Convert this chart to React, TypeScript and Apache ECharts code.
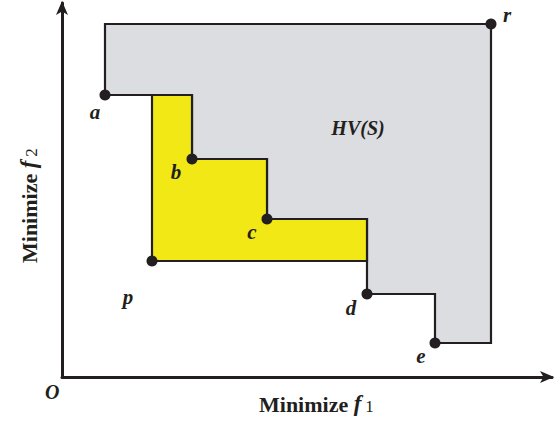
import React, { useEffect, useRef } from "react";
import * as echarts from "echarts";

// Non-dominated front S (f1, f2)
const frontNames = ["a", "b", "c", "d", "e"];
const frontX = [4.3, 13.0, 20.5, 30.5, 37.3];
const frontY = [28.2, 21.8, 15.8, 8.3, 3.4];
// reference point r and new point p
const refPoint = [42.9, 35.3];
const newPoint = [9.0, 11.6];
// label offsets (px) for a..e, p, r
const labelOffsets: Record<string, number[]> = {
  a: [-10, 17],
  b: [-16, 13],
  c: [-15, 13],
  d: [-16, 14],
  e: [-14, 13],
  p: [-24, 36],
  r: [16, -9],
};
const hvLabelPos = [29.6, 24.9];

const SERIF = "'Liberation Serif', 'DejaVu Serif', serif";
const INK = "#231f20";

export default function App() {
  const ref = useRef<HTMLDivElement>(null);
  useEffect(() => {
    if (!ref.current) return;
    const chart = echarts.init(ref.current, undefined, { renderer: "svg" });

    const front = frontX.map((x, i) => [x, frontY[i]]);
    // gray HV polygon
    const grayPoly: number[][] = [];
    for (let i = 0; i < front.length; i++) {
      grayPoly.push(front[i]);
      const nextX = i < front.length - 1 ? front[i + 1][0] : refPoint[0];
      grayPoly.push([nextX, front[i][1]]);
    }
    grayPoly.push(refPoint);
    grayPoly.push([front[0][0], refPoint[1]]);

    // yellow polygon: region dominated by p not already dominated by S
    const yellowPoly: number[][] = [[newPoint[0], front[0][1]]];
    for (let i = 0; i < front.length; i++) {
      const nextX = front[i + 1] ? front[i + 1][0] : refPoint[0];
      if (front[i][1] <= newPoint[1]) break;
      if (i > 0) yellowPoly.push(front[i]);
      if (front[i + 1] && front[i + 1][1] > newPoint[1]) {
        yellowPoly.push([nextX, front[i][1]]);
      } else {
        yellowPoly.push([nextX, front[i][1]]);
        yellowPoly.push([nextX, newPoint[1]]);
        break;
      }
    }
    yellowPoly.push(newPoint);

    const polySeries = (pts: number[][], fill: string) => ({
      type: "custom",
      silent: true,
      data: [0],
      renderItem: (_p: any, api: any) => ({
        type: "polygon",
        shape: { points: pts.map((q) => api.coord(q)) },
        style: { fill, stroke: INK, lineWidth: 2.2, lineJoin: "miter" },
      }),
      z: 1,
    });

    const labelStyle = {
      show: true,
      formatter: "{b}",
      fontFamily: SERIF,
      fontStyle: "italic",
      fontWeight: "bold",
      fontSize: 21,
      color: INK,
      opacity: 1,
      position: "inside",
    };

    const pointData = [
      ...front.map((q, i) => ({ name: frontNames[i], value: q })),
      { name: "p", value: newPoint },
      { name: "r", value: refPoint },
    ].map((d) => ({
      ...d,
      label: { ...labelStyle, offset: labelOffsets[d.name] },
    }));

    const richTitle = {
      m: { fontFamily: SERIF, fontWeight: "bold", fontSize: 22, fill: INK, lineHeight: 26, verticalAlign: "bottom" },
      f: { fontFamily: SERIF, fontWeight: "bold", fontStyle: "italic", fontSize: 23, fill: INK, lineHeight: 26, verticalAlign: "bottom" },
      s: { fontFamily: SERIF, fontSize: 17, fill: INK, lineHeight: 22, verticalAlign: "bottom", padding: [0, 0, 0, 4] },
    };

    chart.setOption({
      animation: false,
      grid: { left: 62, right: 8, top: 3, bottom: 47 },
      xAxis: {
        type: "value",
        min: 0,
        max: 49,
        axisLine: {
          show: true,
          symbol: ["none", "arrow"],
          symbolSize: [9, 14],
          symbolOffset: [0, 2],
          lineStyle: { color: INK, width: 3 },
        },
        axisTick: { show: false },
        axisLabel: { show: false },
        splitLine: { show: false },
      },
      yAxis: {
        type: "value",
        min: 0,
        max: 37.4,
        axisLine: {
          show: true,
          symbol: ["none", "arrow"],
          symbolSize: [9, 14],
          symbolOffset: [0, 2],
          lineStyle: { color: INK, width: 3 },
        },
        axisTick: { show: false },
        axisLabel: { show: false },
        splitLine: { show: false },
      },
      graphic: [
        {
          type: "text",
          left: 259,
          top: 392,
          style: { text: "{m|Minimize }{f|f}{s|1}", rich: richTitle },
        },
        {
          type: "text",
          x: 14,
          y: 263,
          rotation: Math.PI / 2,
          style: { text: "{m|Minimize }{f|f}{s|2}", rich: richTitle },
        },
        {
          type: "text",
          left: 45,
          top: 382,
          style: {
            text: "O",
            fontFamily: SERIF,
            fontStyle: "italic",
            fontWeight: "bold",
            fontSize: 20,
            fill: INK,
          },
        },
      ],
      series: [
        polySeries(grayPoly, "#dcdde0"),
        polySeries(yellowPoly, "#f2e816"),
        {
          type: "scatter",
          symbol: "circle",
          symbolSize: 11,
          itemStyle: { color: INK, opacity: 1 },
          data: pointData,
          z: 5,
          silent: true,
        },
        {
          type: "scatter",
          symbolSize: 0,
          silent: true,
          itemStyle: { opacity: 1 },
          data: [{ name: "HV(S)", value: hvLabelPos }],
          label: { ...labelStyle, fontSize: 20 },
          z: 5,
        },
      ],
    });
    return () => chart.dispose();
  }, []);
  return (
    <div
      ref={ref}
      style={{ position: "fixed", left: 0, top: 0, width: 560, height: 424, background: "#fff" }}
    />
  );
}
